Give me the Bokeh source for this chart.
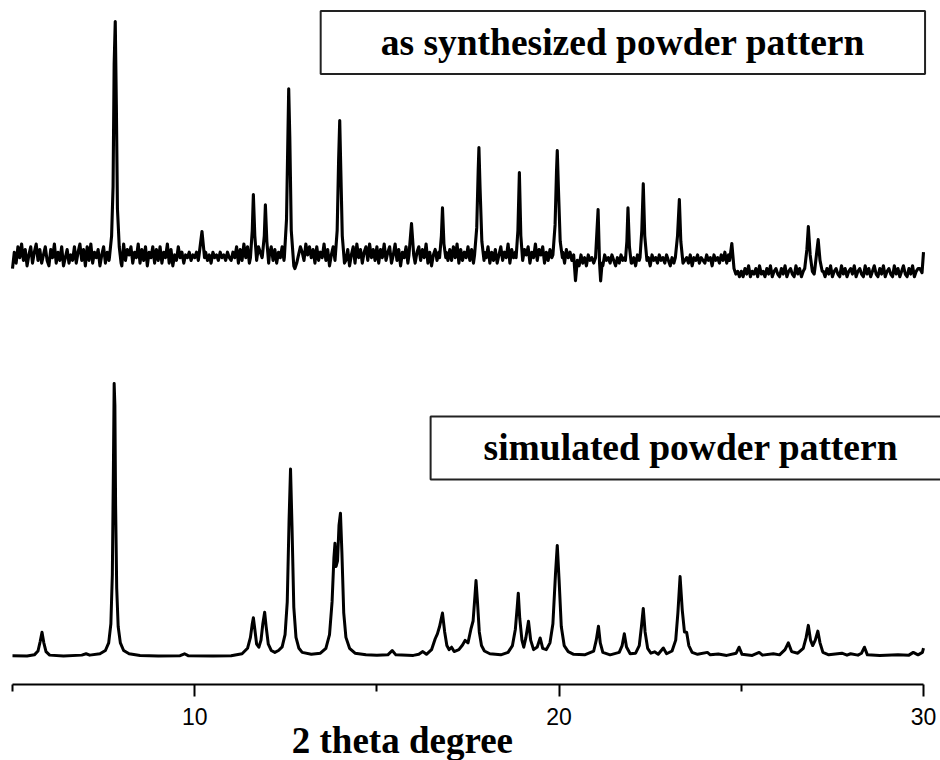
from bokeh.plotting import figure
from bokeh.models import Range1d, FixedTicker, Label
from bokeh.embed import file_html
from bokeh.resources import INLINE

# ---------------- data ----------------
x_major_ticks = [10, 20, 30]
x_minor_ticks = [5, 15, 25]
x_axis_bounds = (5, 30)
x_label = "2 theta degree"
exp_title = "as synthesized powder pattern"
sim_title = "simulated powder pattern"

# as-synthesized pattern: background read every 0.05 deg from 5.00 to 30.00
exp_base_start = 5.0
exp_base_step = 0.05
exp_base_y = [
    0, 6, 2, 8, 4, 9, 3, 7, 1, 5, 8, 2, 6, 9, 3, 7, 2, 5, 8, 3,              # 5
    1, 7, 4, 9, 2, 6, 3, 8, 1, 4, 7, 2, 5, 3, 8, 2, 6, 9, 3, 7,              # 6
    1, 8, 3, 9, 2, 6, 4, 7, 1, 5, 8, 2, 6, 3, 9, 4, 7, 2, 8, 3,              # 7
    1, 9, 3, 7, 5, 8, 2, 6, 4, 9, 2, 7, 3, 8, 1, 6, 4, 8, 2, 7,              # 8
    3, 8, 2, 6, 4, 9, 2, 7, 1, 5, 3, 8, 4, 6, 2, 5, 4, 6, 3, 5,              # 9
    4, 6, 3, 5, 7, 4, 6, 3, 5, 2, 6, 4, 5, 3, 6, 4, 5, 3, 6, 4,              # 10
    3, 6, 4, 8, 2, 7, 3, 9, 4, 8, 2, 7, 5, 9, 3, 8, 6, 4, 7, 2,              # 11
    1, 5, 8, 3, 7, 2, 6, 4, 8, 3, 7, 2, 6, 4, 1, 0, 2, 5, 8, 6,              # 12
    3, 9, 5, 8, 4, 7, 2, 8, 3, 6, 4, 9, 3, 7, 1, 5, 8, 2, 6, 4,              # 13
    6, 2, 8, 3, 7, 1, 5, 8, 2, 9, 4, 7, 2, 6, 8, 3, 9, 4, 7, 3,              # 14
    8, 2, 7, 4, 9, 3, 6, 8, 2, 5, 9, 3, 7, 1, 6, 4, 8, 2, 6, 3,              # 15
    7, 2, 6, 8, 3, 7, 4, 9, 2, 6, 1, 5, 7, 3, 6, 4, 8, 2, 6, 3,              # 16
    7, 3, 8, 4, 9, 2, 7, 3, 6, 4, 8, 3, 7, 2, 6, 4, 8, 3, 5, 6,              # 17
    4, 8, 2, 6, 3, 7, 2, 5, 8, 3, 6, 4, 9, 2, 7, 4, 6, 1, 7, 5,              # 18
    3, 7, 5, 8, 2, 6, 4, 9, 3, 7, 5, 8, 2, 6, 3, 7, 4, 6, 2, 7,              # 19
    5, 3, 6, 2, 7, 4, 6, 3, 5, -4.4, 3, 1, 5, 2, 4, 1, 5, 3, 4, 2,           # 20
    3, 5, 2, 4, 1, 5, 3, 4, 2, 5, 3, 1, 4, 2, 5, 3, 4, 2, 5, 3,              # 21
    2, 4, 1, 5, 3, 4, 2, 5, 3, 4, 1, 5, 3, 4, 2, 5, 3, 4, 2, 5,              # 22
    3, 1, 4, 2, 5, 3, 4, 2, 5, 3, 4, 2, 5, 1, 4, 3, 5, 2, 4, 3,              # 23
    2, 5, 3, 4, 1, 5, 3, 4, 2, 5, 3, 6, 2, 5, 3, 4, -1, -2, -1, -3,          # 24
    -1, -3, 0, -2, 1, -3, -1, -2, 0, -3, 1, -2, -1, -3, 0, -2, 1, -3, -1, 0,  # 25
    -2, -3, 0, -2, 1, -3, -1, 0, -2, -3, 1, -2, 0, -3, -1, 0, -2, 1, -3, -1,  # 26
    -2, 0, -3, 1, -2, -1, -3, 0, -2, 1, -3, -1, 0, -2, -3, 1, -2, 0, -3, -1,  # 27
    0, -2, 1, -3, -1, 0, -2, -3, 1, -2, 0, -3, -1, 1, -2, -3, 0, -2, 1, -3,   # 28
    -1, 0, -2, -3, 1, -2, 0, -3, -1, 1, -2, -3, 0, -2, 1, -3, -1, 0, -2, 1,   # 29
    -1,                                                                      # 30
]

# as-synthesized pattern: reflections (2theta, intensity)
exp_peaks = [
    [(7.66, 4), (7.72, 12), (7.76, 30), (7.79, 75), (7.82, 90.5), (7.85, 60), (7.88, 22), (7.93, 8), (7.98, 2)],
    [(10.12, 5), (10.20, 13.6), (10.27, 4)],
    [(11.53, 4), (11.58, 14), (11.61, 27.1), (11.65, 12), (11.70, 3)],
    [(11.86, 5), (11.91, 12), (11.94, 23.4), (11.98, 10), (12.03, 2)],
    [(12.46, 4), (12.52, 18), (12.56, 50), (12.58, 65.9), (12.61, 48), (12.65, 14), (12.72, 1)],
    [(13.85, 3), (13.91, 14), (13.95, 40), (13.98, 54.2), (14.01, 36), (14.05, 12), (14.11, 2)],
    [(15.88, 5), (15.95, 16.5), (16.01, 5)],
    [(16.72, 4), (16.77, 12), (16.80, 22.3), (16.84, 9), (16.89, 4)],
    [(17.68, 5), (17.74, 15), (17.78, 36), (17.80, 44.3), (17.83, 30), (17.88, 10), (17.94, 3)],
    [(18.82, 4), (18.87, 14), (18.91, 35.2), (18.95, 12), (19.00, 3)],
    [(19.83, 5), (19.89, 16), (19.93, 36), (19.95, 43.2), (19.98, 30), (20.03, 10), (20.09, 4)],
    [(21.00, 4), (21.07, 21.6), (21.11, 2), (21.14, -4.5), (21.18, 2)],
    [(21.82, 3), (21.86, 10), (21.89, 22.3), (21.93, 8), (21.98, 2)],
    [(22.22, 4), (22.27, 14), (22.31, 31.1), (22.35, 12), (22.41, 3)],
    [(23.19, 4), (23.25, 12), (23.30, 25.3), (23.34, 10), (23.40, 2)],
    [(24.68, 3), (24.74, 9.2), (24.80, 0), (24.85, -2)],
    [(26.74, 0), (26.80, 7), (26.84, 15.4), (26.89, 5), (26.95, -1)],
    [(27.02, 0), (27.07, 6), (27.11, 10.6), (27.16, 3), (27.22, -1)],
    [(29.90, 0), (29.96, -1.5), (30.00, 6)],
]

# simulated pattern (2theta, intensity)
sim_profile = [
    (5.00, 0.3), (5.40, 0.2), (5.60, 0.6), (5.70, 2.0), (5.76, 5.5), (5.81, 8.9), (5.86, 5.0),
    (5.92, 1.8), (6.02, 0.5), (6.40, 0.2), (6.90, 0.5), (7.02, 1.0), (7.12, 0.5), (7.40, 1.0),
    (7.55, 2.2), (7.64, 5), (7.70, 12), (7.74, 30), (7.77, 70), (7.79, 100), (7.81, 92),
    (7.83, 55), (7.86, 25), (7.90, 11), (7.96, 5), (8.05, 2.2), (8.20, 1.0), (8.50, 0.4),
    (9.00, 0.2), (9.60, 0.3), (9.72, 1.0), (9.82, 0.3), (10.50, 0.2), (11.00, 0.3),
    (11.30, 1.0), (11.45, 3), (11.53, 7), (11.58, 12), (11.61, 14.2), (11.65, 10), (11.70, 4.5),
    (11.76, 3.4), (11.82, 6), (11.87, 12), (11.92, 16.2), (11.96, 11), (12.02, 4.5),
    (12.10, 2.2), (12.20, 1.5), (12.30, 2.2), (12.40, 3.5), (12.48, 8), (12.54, 20),
    (12.59, 50), (12.63, 68.7), (12.67, 48), (12.72, 18), (12.78, 7), (12.86, 3),
    (12.95, 1.5), (13.20, 0.8), (13.45, 1.2), (13.60, 3), (13.70, 8), (13.77, 20),
    (13.82, 36), (13.85, 41.5), (13.88, 33), (13.92, 35), (13.96, 48), (14.00, 52.5),
    (14.04, 38), (14.09, 16), (14.15, 7), (14.25, 3), (14.40, 1.2), (14.70, 0.6),
    (15.00, 0.5), (15.30, 0.6), (15.42, 2.2), (15.52, 0.6), (16.00, 0.4), (16.15, 0.8),
    (16.26, 1.8), (16.36, 0.8), (16.50, 2.5), (16.60, 6.5), (16.66, 8.3), (16.72, 11),
    (16.80, 15.9), (16.86, 9), (16.92, 4), (16.98, 2.5), (17.05, 3.4), (17.12, 1.8),
    (17.25, 2.5), (17.35, 4.2), (17.42, 5.9), (17.50, 5), (17.58, 10), (17.64, 13),
    (17.69, 22), (17.72, 27.8), (17.76, 20), (17.81, 9), (17.87, 4), (17.95, 2),
    (18.10, 1), (18.40, 0.6), (18.60, 1.5), (18.72, 4), (18.80, 10), (18.85, 18),
    (18.88, 23.2), (18.92, 14), (18.98, 6), (19.03, 3.4), (19.09, 7), (19.16, 12.9),
    (19.22, 6), (19.30, 2.5), (19.40, 3.5), (19.48, 6.8), (19.55, 3), (19.65, 2.5),
    (19.75, 5), (19.83, 12), (19.90, 30), (19.95, 40.7), (20.00, 28), (20.06, 11),
    (20.14, 4), (20.25, 1.8), (20.40, 0.8), (20.70, 0.6), (20.95, 2), (21.02, 6),
    (21.08, 11.1), (21.13, 5), (21.20, 1.5), (21.40, 0.6), (21.65, 1.5), (21.73, 4),
    (21.79, 8.3), (21.85, 3.5), (21.95, 1), (22.10, 1.2), (22.20, 4), (22.26, 11),
    (22.31, 17.6), (22.36, 9), (22.43, 3), (22.52, 1.2), (22.62, 1.7), (22.72, 0.8),
    (22.86, 3.1), (22.95, 1.0), (23.10, 2), (23.20, 6), (23.26, 16), (23.32, 29.3),
    (23.38, 17), (23.44, 9), (23.50, 8.9), (23.56, 4), (23.65, 1.5), (23.80, 0.8),
    (24.07, 1.5), (24.15, 0.6), (24.37, 0.9), (24.60, 0.4), (24.86, 1.2), (24.94, 3.4),
    (25.02, 0.8), (25.30, 0.4), (25.49, 1.5), (25.58, 0.5), (25.88, 1.0), (26.05, 0.6),
    (26.20, 2.5), (26.29, 5.0), (26.38, 1.8), (26.55, 1.2), (26.70, 3), (26.78, 7),
    (26.84, 11.4), (26.90, 6), (26.96, 4), (27.03, 6), (27.10, 9.3), (27.16, 5),
    (27.24, 1.5), (27.40, 0.6), (27.76, 1.2), (27.90, 0.5), (28.00, 1.0), (28.20, 0.5),
    (28.30, 1.2), (28.38, 3.4), (28.46, 0.6), (28.80, 0.4), (29.30, 0.6), (29.60, 0.5),
    (29.72, 1.5), (29.85, 0.6), (29.97, 1.5), (30.00, 3.1),
]

# vertical stacking offset of the as-synthesized trace
exp_offset = 142.1

# ---------------- build traces ----------------
base_x = [round(exp_base_start + exp_base_step * i, 2) for i in range(len(exp_base_y))]
windows = [(min(pt[0] for pt in g), max(pt[0] for pt in g)) for g in exp_peaks]
pts = [(x, y) for x, y in zip(base_x, exp_base_y)
       if not any(lo <= x <= hi for lo, hi in windows)]
for g in exp_peaks:
    pts.extend(g)
pts.sort()
exp_x = [pt[0] for pt in pts]
exp_y = [pt[1] + exp_offset for pt in pts]

sim_x = [pt[0] for pt in sim_profile]
sim_y = [pt[1] for pt in sim_profile]

# ---------------- figure ----------------
# frame covers the whole canvas; the axis is drawn at a fixed location
p = figure(width=940, height=760,
           x_range=Range1d(4.671, 30.4665), y_range=Range1d(-38.1, 240.3),
           output_backend="svg", toolbar_location=None,
           min_border_left=0, min_border_right=0,
           min_border_top=0, min_border_bottom=0,
           y_axis_location=None)
p.outline_line_color = None
p.xgrid.visible = False
p.ygrid.visible = False

p.line(exp_x, exp_y, line_color="black", line_width=3.1, line_join="round")
p.line(sim_x, sim_y, line_color="black", line_width=3, line_join="round")

ax = p.xaxis[0]
ax.fixed_location = -10.26
ax.bounds = x_axis_bounds
ax.ticker = FixedTicker(ticks=x_major_ticks, minor_ticks=x_minor_ticks)
ax.axis_line_width = 2
ax.axis_line_color = "black"
ax.major_tick_line_width = 2
ax.minor_tick_line_width = 2
ax.major_tick_line_color = "black"
ax.minor_tick_line_color = "black"
ax.major_tick_out = 12
ax.major_tick_in = 0
ax.minor_tick_out = 7
ax.minor_tick_in = 0
ax.major_label_text_font = "Liberation Sans"
ax.major_label_text_font_size = "23px"
ax.major_label_text_color = "black"
ax.major_label_standoff = 11

p.add_layout(Label(x=21.75, y=224.9, text=exp_title,
                   text_align="center", text_baseline="middle",
                   text_font="Liberation Serif", text_font_size="37.5px",
                   text_font_style="bold", text_color="black",
                   border_line_color="#222222", border_line_width=2,
                   background_fill_color="white",
                   padding=dict(left=60, right=60, top=11, bottom=11)))

p.add_layout(Label(x=23.85, y=76.4, text=sim_title,
                   text_align="center", text_baseline="middle",
                   text_font="Liberation Serif", text_font_size="37.5px",
                   text_font_style="bold", text_color="black",
                   border_line_color="#222222", border_line_width=2,
                   background_fill_color="white",
                   padding=dict(left=53, right=70, top=11, bottom=11)))

p.add_layout(Label(x=15.70, y=-30.6, text=x_label,
                   text_align="center", text_baseline="middle",
                   text_font="Liberation Serif", text_font_size="37px",
                   text_font_style="bold", text_color="black"))

open("out.html", "w").write(file_html(p, INLINE))
